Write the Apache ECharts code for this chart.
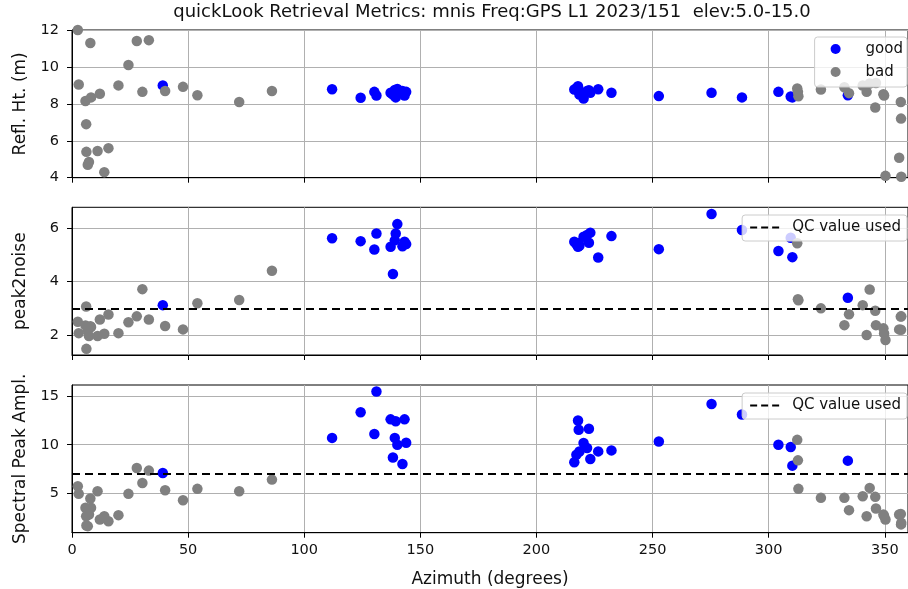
<!DOCTYPE html>
<html>
<head>
<meta charset="utf-8">
<script src="https://cdn.jsdelivr.net/npm/echarts@6/dist/echarts.min.js"></script>
<style>
  html, body { margin: 0; padding: 0; background: #fff; }
  #chart { width: 908px; height: 589px; }
</style>
</head>
<body>
<div id="chart"></div>
<script>
// Arcs that passed QC: azimuth (deg), reflector height (m), peak-to-noise, spectral peak amplitude
const goodAz  = [39.1, 112.0, 124.3, 130.2, 131.1, 137.2, 138.2, 139.0, 139.4, 140.1, 142.3, 143.2, 143.9,
                 216.3, 217.2, 217.9, 218.2, 218.5, 220.3, 221.8, 222.6, 223.2, 226.6, 232.3,
                 252.7, 275.4, 288.5, 304.2, 309.5, 310.2, 334.1];
const goodRH  = [9.0, 8.79, 8.33, 8.65, 8.45, 8.6, 8.5, 8.75, 8.35, 8.8, 8.7, 8.45, 8.65,
                 8.78, 8.85, 8.96, 8.7, 8.5, 8.29, 8.7, 8.74, 8.6, 8.79, 8.6,
                 8.42, 8.6, 8.35, 8.65, 8.4, 8.35, 8.47];
const goodP2N = [3.12, 5.63, 5.52, 5.21, 5.81, 5.31, 4.29, 5.55, 5.81, 6.16, 5.33, 5.5, 5.41,
                 5.5, 5.4, 5.31, 5.45, 5.35, 5.69, 5.75, 5.46, 5.84, 4.91, 5.71,
                 5.22, 6.54, 5.94, 5.15, 5.65, 4.92, 3.4];
const goodAmp = [7.11, 10.7, 13.33, 11.1, 15.45, 12.6, 8.7, 10.7, 12.4, 10.0, 8.03, 12.6, 10.2,
                 8.2, 8.98, 12.48, 11.53, 9.3, 10.17, 9.66, 11.63, 8.54, 9.32, 9.42,
                 10.34, 14.18, 13.1, 10.0, 9.76, 7.86, 8.37];

// Arcs rejected by QC
const badAz  = [2.5, 2.9, 5.8, 6.1, 6.2, 6.8, 7.3, 7.9, 8.2, 11.0, 12.0, 13.9, 15.7, 20.0, 24.3, 27.9,
                30.3, 33.1, 40.1, 47.8, 54.0, 72.0, 86.1,
                312.3, 312.6, 312.8, 322.5, 332.6, 334.6, 340.5, 342.2, 343.5, 345.9, 346.2,
                349.4, 349.7, 350.3, 356.2, 356.9, 357.0, 357.1];
const badRH  = [12.0, 9.05, 8.15, 6.9, 5.4, 4.7, 4.85, 11.3, 8.35, 5.45, 8.55, 4.3, 5.6, 9.0, 10.1, 11.4,
                8.65, 11.45, 8.7, 8.92, 8.47, 8.1, 8.7,
                8.83, 8.65, 8.41, 8.78, 8.9, 8.58, 8.99, 8.65, 9.1, 7.8, 9.13,
                8.52, 8.45, 4.1, 5.08, 8.1, 7.2, 4.05];
const badP2N = [2.5, 2.07, 2.36, 3.07, 1.48, 2.18, 1.96, 2.33, 2.3, 1.96, 2.58, 2.05, 2.77, 2.07, 2.48, 2.7,
                3.72, 2.58, 2.34, 2.21, 3.19, 3.31, 4.41,
                5.44, 3.34, 3.3, 3.0, 2.37, 2.78, 3.12, 2.0, 3.71, 2.91, 2.37,
                2.25, 2.06, 1.81, 2.21, 2.69, 2.2, 2.7];
const badAmp = [5.74, 4.97, 3.54, 2.68, 1.73, 1.66, 2.86, 4.49, 3.54, 5.23, 2.35, 2.68, 2.17, 2.79, 4.97, 7.62,
                6.09, 7.35, 5.34, 4.32, 5.48, 5.23, 6.43,
                10.5, 8.4, 5.48, 4.56, 4.56, 3.3, 4.72, 2.68, 5.58, 4.66, 3.47,
                2.86, 2.7, 2.35, 2.86, 2.9, 1.84, 2.0];

// QC thresholds
const qcP2N = 3;
const qcAmp = 7;

// Tick labels
const azTicks  = [0, 50, 100, 150, 200, 250, 300, 350];
const rhTicks  = [4, 6, 8, 10, 12];
const p2nTicks = [2, 4, 6];
const ampTicks = [5, 10, 15];

// Axis ranges
const azRange  = [0, 360];
const rhRange  = [4, 12];
const p2nRange = [1.25, 6.79];
const ampRange = [0.99, 16.12];

const FONT = 'DejaVu Sans';
const TXT = '#111';

const panels = [
  { name: 'Refl. Ht. (m)',       vals: [goodRH,  badRH],  ticks: rhTicks,  range: rhRange,  qc: null },
  { name: 'peak2noise',          vals: [goodP2N, badP2N], ticks: p2nTicks, range: p2nRange, qc: qcP2N },
  { name: 'Spectral Peak Ampl.', vals: [goodAmp, badAmp], ticks: ampTicks, range: ampRange, qc: qcAmp }
];
const gridTops = [30, 207.3, 385];
const gridH = 147.7;

const grids = [], xAxes = [], yAxes = [], series = [];
panels.forEach((p, i) => {
  grids.push({
    left: 72, right: -5, top: gridTops[i], height: gridH,
    show: true, borderColor: '#000', borderWidth: 1, backgroundColor: 'transparent'
  });
  xAxes.push({
    gridIndex: i, type: 'value', min: azRange[0], max: azRange[1],
    name: i === 2 ? 'Azimuth (degrees)' : '',
    nameLocation: 'middle', nameGap: 38,
    nameTextStyle: { fontFamily: FONT, fontSize: 17, color: TXT },
    axisLine: { show: true, onZero: false, lineStyle: { color: '#000', width: 1 } },
    axisTick: { show: true, inside: false, length: 5, customValues: azTicks, lineStyle: { color: '#000', width: 1 } },
    axisLabel: { show: i === 2, customValues: azTicks, margin: 10.5, fontFamily: FONT, fontSize: 14.5, color: TXT },
    splitLine: { show: true, lineStyle: { color: '#b0b0b0', width: 1 } }
  });
  yAxes.push({
    gridIndex: i, type: 'value', min: p.range[0], max: p.range[1],
    name: p.name, nameLocation: 'middle', nameGap: 43, nameRotate: 90,
    nameTextStyle: { fontFamily: FONT, fontSize: 17, color: TXT },
    axisLine: { show: true, onZero: false, lineStyle: { color: '#000', width: 1 } },
    axisTick: { show: true, inside: false, length: 5, customValues: p.ticks, lineStyle: { color: '#000', width: 1 } },
    axisLabel: { customValues: p.ticks, margin: 13, fontFamily: FONT, fontSize: 14.5, color: TXT },
    splitLine: { show: true, lineStyle: { color: '#b0b0b0', width: 1 } }
  });
  series.push({
    type: 'scatter', name: 'good', xAxisIndex: i, yAxisIndex: i,
    data: goodAz.map((a, k) => [a, p.vals[0][k]]),
    symbol: 'circle', symbolSize: 10.5,
    itemStyle: { color: '#0000ff', opacity: 1 },
    emphasis: { disabled: true }, z: 2
  });
  series.push({
    type: 'scatter', name: 'bad', xAxisIndex: i, yAxisIndex: i,
    data: badAz.map((a, k) => [a, p.vals[1][k]]),
    symbol: 'circle', symbolSize: 10.5,
    itemStyle: { color: '#808080', opacity: 1 },
    emphasis: { disabled: true }, z: 2
  });
  if (p.qc !== null) {
    series.push({
      type: 'line', name: 'QC value used', xAxisIndex: i, yAxisIndex: i,
      data: [], symbol: 'none',
      lineStyle: { color: '#000', width: 2, type: [7, 4] },
      itemStyle: { color: '#000' },
      markLine: {
        silent: true, symbol: 'none', label: { show: false },
        lineStyle: { color: '#000', width: 2, type: [8, 5] },
        data: [{ yAxis: p.qc }]
      },
      z: 3
    });
  }
});

const legendBase = {
  right: 1, itemWidth: 30, itemHeight: 10,
  backgroundColor: 'rgba(255,255,255,0.8)', borderColor: '#cccccc', borderWidth: 1, borderRadius: 3,
  selectedMode: false
};
const qcLegendItem = {
  name: 'QC value used',
  itemStyle: { color: 'rgba(0,0,0,0)', borderColor: 'rgba(0,0,0,0)', borderWidth: 0 }
};
const qcLegendText = { fontFamily: FONT, fontSize: 15, color: TXT, lineHeight: 17, padding: [0, 0, 0, 7] };

const chart = echarts.init(document.getElementById('chart'), null, { renderer: 'canvas' });
chart.setOption({
  animation: false,
  backgroundColor: '#fff',
  title: {
    text: 'quickLook Retrieval Metrics: mnis Freq:GPS L1 2023/151  elev:5.0-15.0',
    left: 492, textAlign: 'center', top: 3, padding: 0,
    textStyle: { fontFamily: FONT, fontSize: 18, fontWeight: 'normal', color: TXT }
  },
  grid: grids,
  xAxis: xAxes,
  yAxis: yAxes,
  legend: [
    Object.assign({}, legendBase, {
      data: [{ name: 'good', icon: 'circle' }, { name: 'bad', icon: 'circle' }],
      orient: 'vertical', top: 37, itemGap: 6, padding: [3.5, 4, 6.5, 16],
      textStyle: { fontFamily: FONT, fontSize: 15, color: TXT, lineHeight: 17, padding: [0, 0, 0, 10] }
    }),
    Object.assign({}, legendBase, {
      data: [qcLegendItem], top: 215, padding: [4, 6, 5, 7], textStyle: qcLegendText
    }),
    Object.assign({}, legendBase, {
      data: [qcLegendItem], top: 393, padding: [4, 6, 5, 7], textStyle: qcLegendText
    })
  ],
  series: series
});
</script>
</body>
</html>
